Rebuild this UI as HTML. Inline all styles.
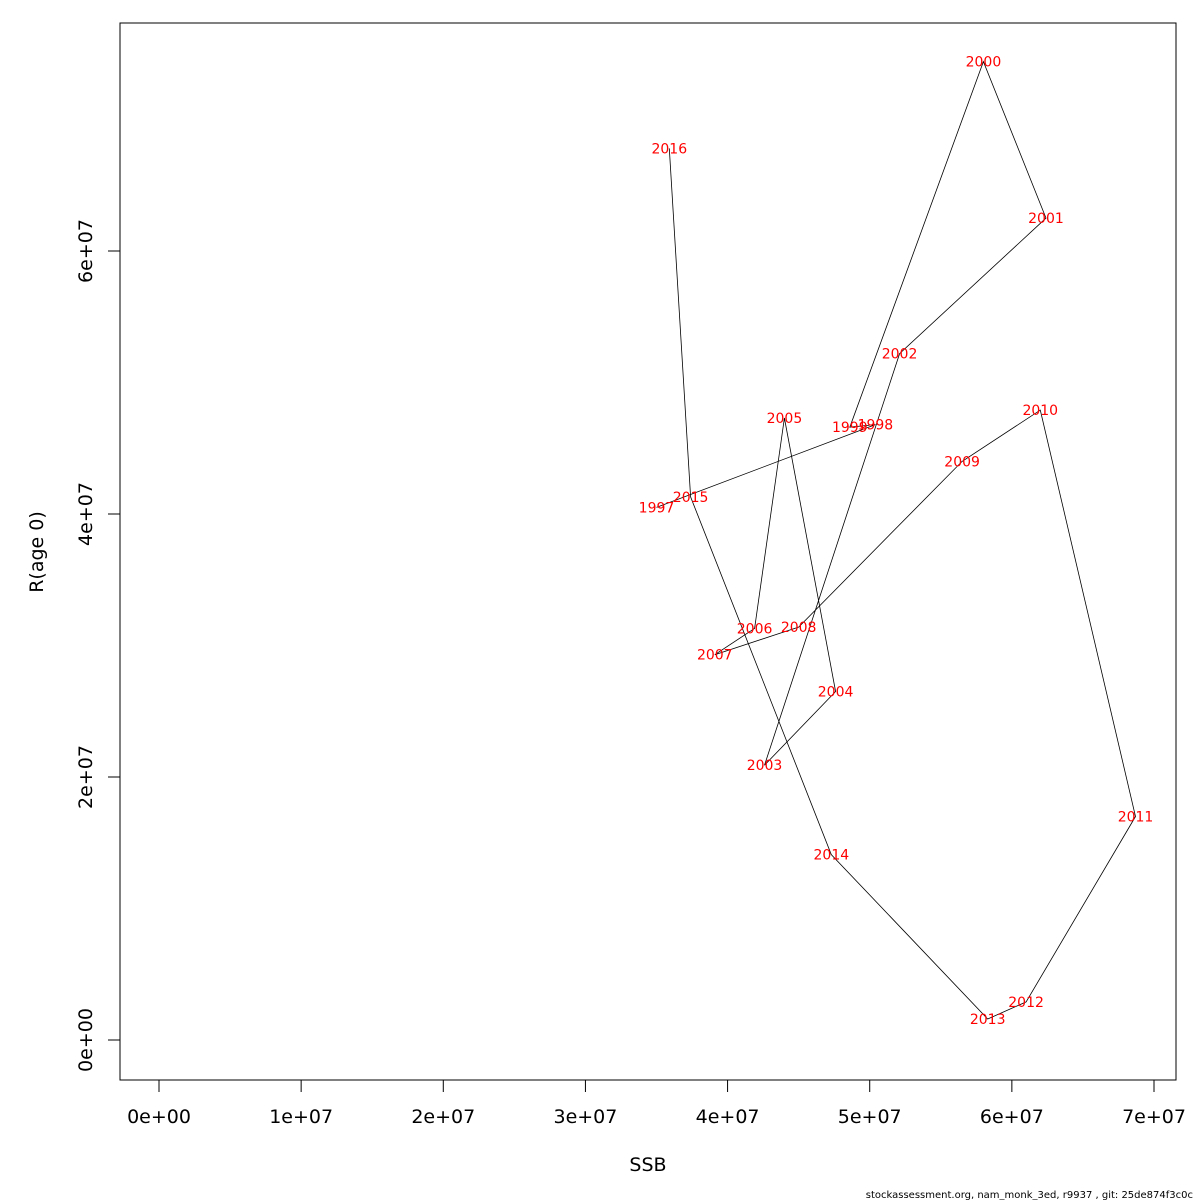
<!DOCTYPE html>
<html><head><meta charset="utf-8"><style>
html,body{margin:0;padding:0;background:#fff;}
svg{display:block;font-family:"DejaVu Sans","Liberation Sans",sans-serif;}
</style></head><body>
<svg id="chart" width="1200" height="1200" viewBox="0 0 1200 1200" xmlns="http://www.w3.org/2000/svg">
<rect x="0" y="0" width="1200" height="1200" fill="#fff"/>
<rect x="120" y="23" width="1056" height="1057" fill="none" stroke="#000" stroke-width="1"/>
<g id="xaxis"></g>
<g id="yaxis"></g>
<path id="line" fill="none" stroke="#000" stroke-width="0.8"/>
<g id="labels"></g>
<text x="648" y="1171" font-size="19" text-anchor="middle">SSB</text>
<text transform="translate(43,552) rotate(-90)" font-size="19" text-anchor="middle">R(age 0)</text>
<text x="1193" y="1198" font-size="10" text-anchor="end">stockassessment.org, nam_monk_3ed, r9937 , git: 25de874f3c0c</text>
</svg>
<script>
const years=[1997,1998,1999,2000,2001,2002,2003,2004,2005,2006,2007,2008,2009,2010,2011,2012,2013,2014,2015,2016];
const ssb=[3.50e7,5.04e7,4.86e7,5.80e7,6.24e7,5.21e7,4.26e7,4.76e7,4.40e7,4.19e7,3.91e7,4.50e7,5.65e7,6.20e7,6.87e7,6.10e7,5.83e7,4.73e7,3.74e7,3.59e7];
const rec=[4.05e7,4.68e7,4.66e7,7.44e7,6.25e7,5.22e7,2.09e7,2.65e7,4.73e7,3.13e7,2.93e7,3.14e7,4.40e7,4.79e7,1.70e7,0.29e7,0.16e7,1.41e7,4.13e7,6.78e7];
const xTicks=[0,1e7,2e7,3e7,4e7,5e7,6e7,7e7];
const xTickLabels=["0e+00","1e+07","2e+07","3e+07","4e+07","5e+07","6e+07","7e+07"];
const yTicks=[0,2e7,4e7,6e7];
const yTickLabels=["0e+00","2e+07","4e+07","6e+07"];
const NS="http://www.w3.org/2000/svg";
function sx(v){return 159+v*(1154-159)/7e7;}
function sy(v){return 1040-v*(1040-251)/6e7;}
function mk(tag,attrs,parent){const e=document.createElementNS(NS,tag);for(const k in attrs)e.setAttribute(k,attrs[k]);parent.appendChild(e);return e;}
const xa=document.getElementById('xaxis');
mk('line',{x1:sx(xTicks[0]),x2:sx(xTicks[xTicks.length-1]),y1:1080,y2:1080,stroke:'#000'},xa);
xTicks.forEach((t,i)=>{
  const l=mk('line',{x1:sx(t),x2:sx(t),y1:1080,y2:1092,stroke:'#000'},xa);
  
  
  const tx=mk('text',{x:sx(t),y:1123,'font-size':19,'text-anchor':'middle'},xa);
  
  
  tx.textContent=xTickLabels[i];
});
const ya=document.getElementById('yaxis');
mk('line',{x1:120,x2:120,y1:sy(yTicks[0]),y2:sy(yTicks[yTicks.length-1]),stroke:'#000'},ya);
yTicks.forEach((t,i)=>{
  const l=mk('line',{x1:108,x2:120,y1:sy(t),y2:sy(t),stroke:'#000'},ya);
  
  
  const tx=mk('text',{transform:`translate(92,${sy(t)}) rotate(-90)`,'font-size':19,'text-anchor':'middle'},ya);
  
  
  tx.textContent=yTickLabels[i];
});
document.getElementById('line').setAttribute('d',ssb.map((v,i)=>(i?'L':'M')+sx(v).toFixed(1)+','+sy(rec[i]).toFixed(1)).join(' '));
const lg=document.getElementById('labels');
years.forEach((y,i)=>{
  const t=mk('text',{x:sx(ssb[i]),y:sy(rec[i])+5,'font-size':14,'text-anchor':'middle',fill:'#ff0000'},lg);
  
  
  t.textContent=y;
});
</script>
</body></html>
